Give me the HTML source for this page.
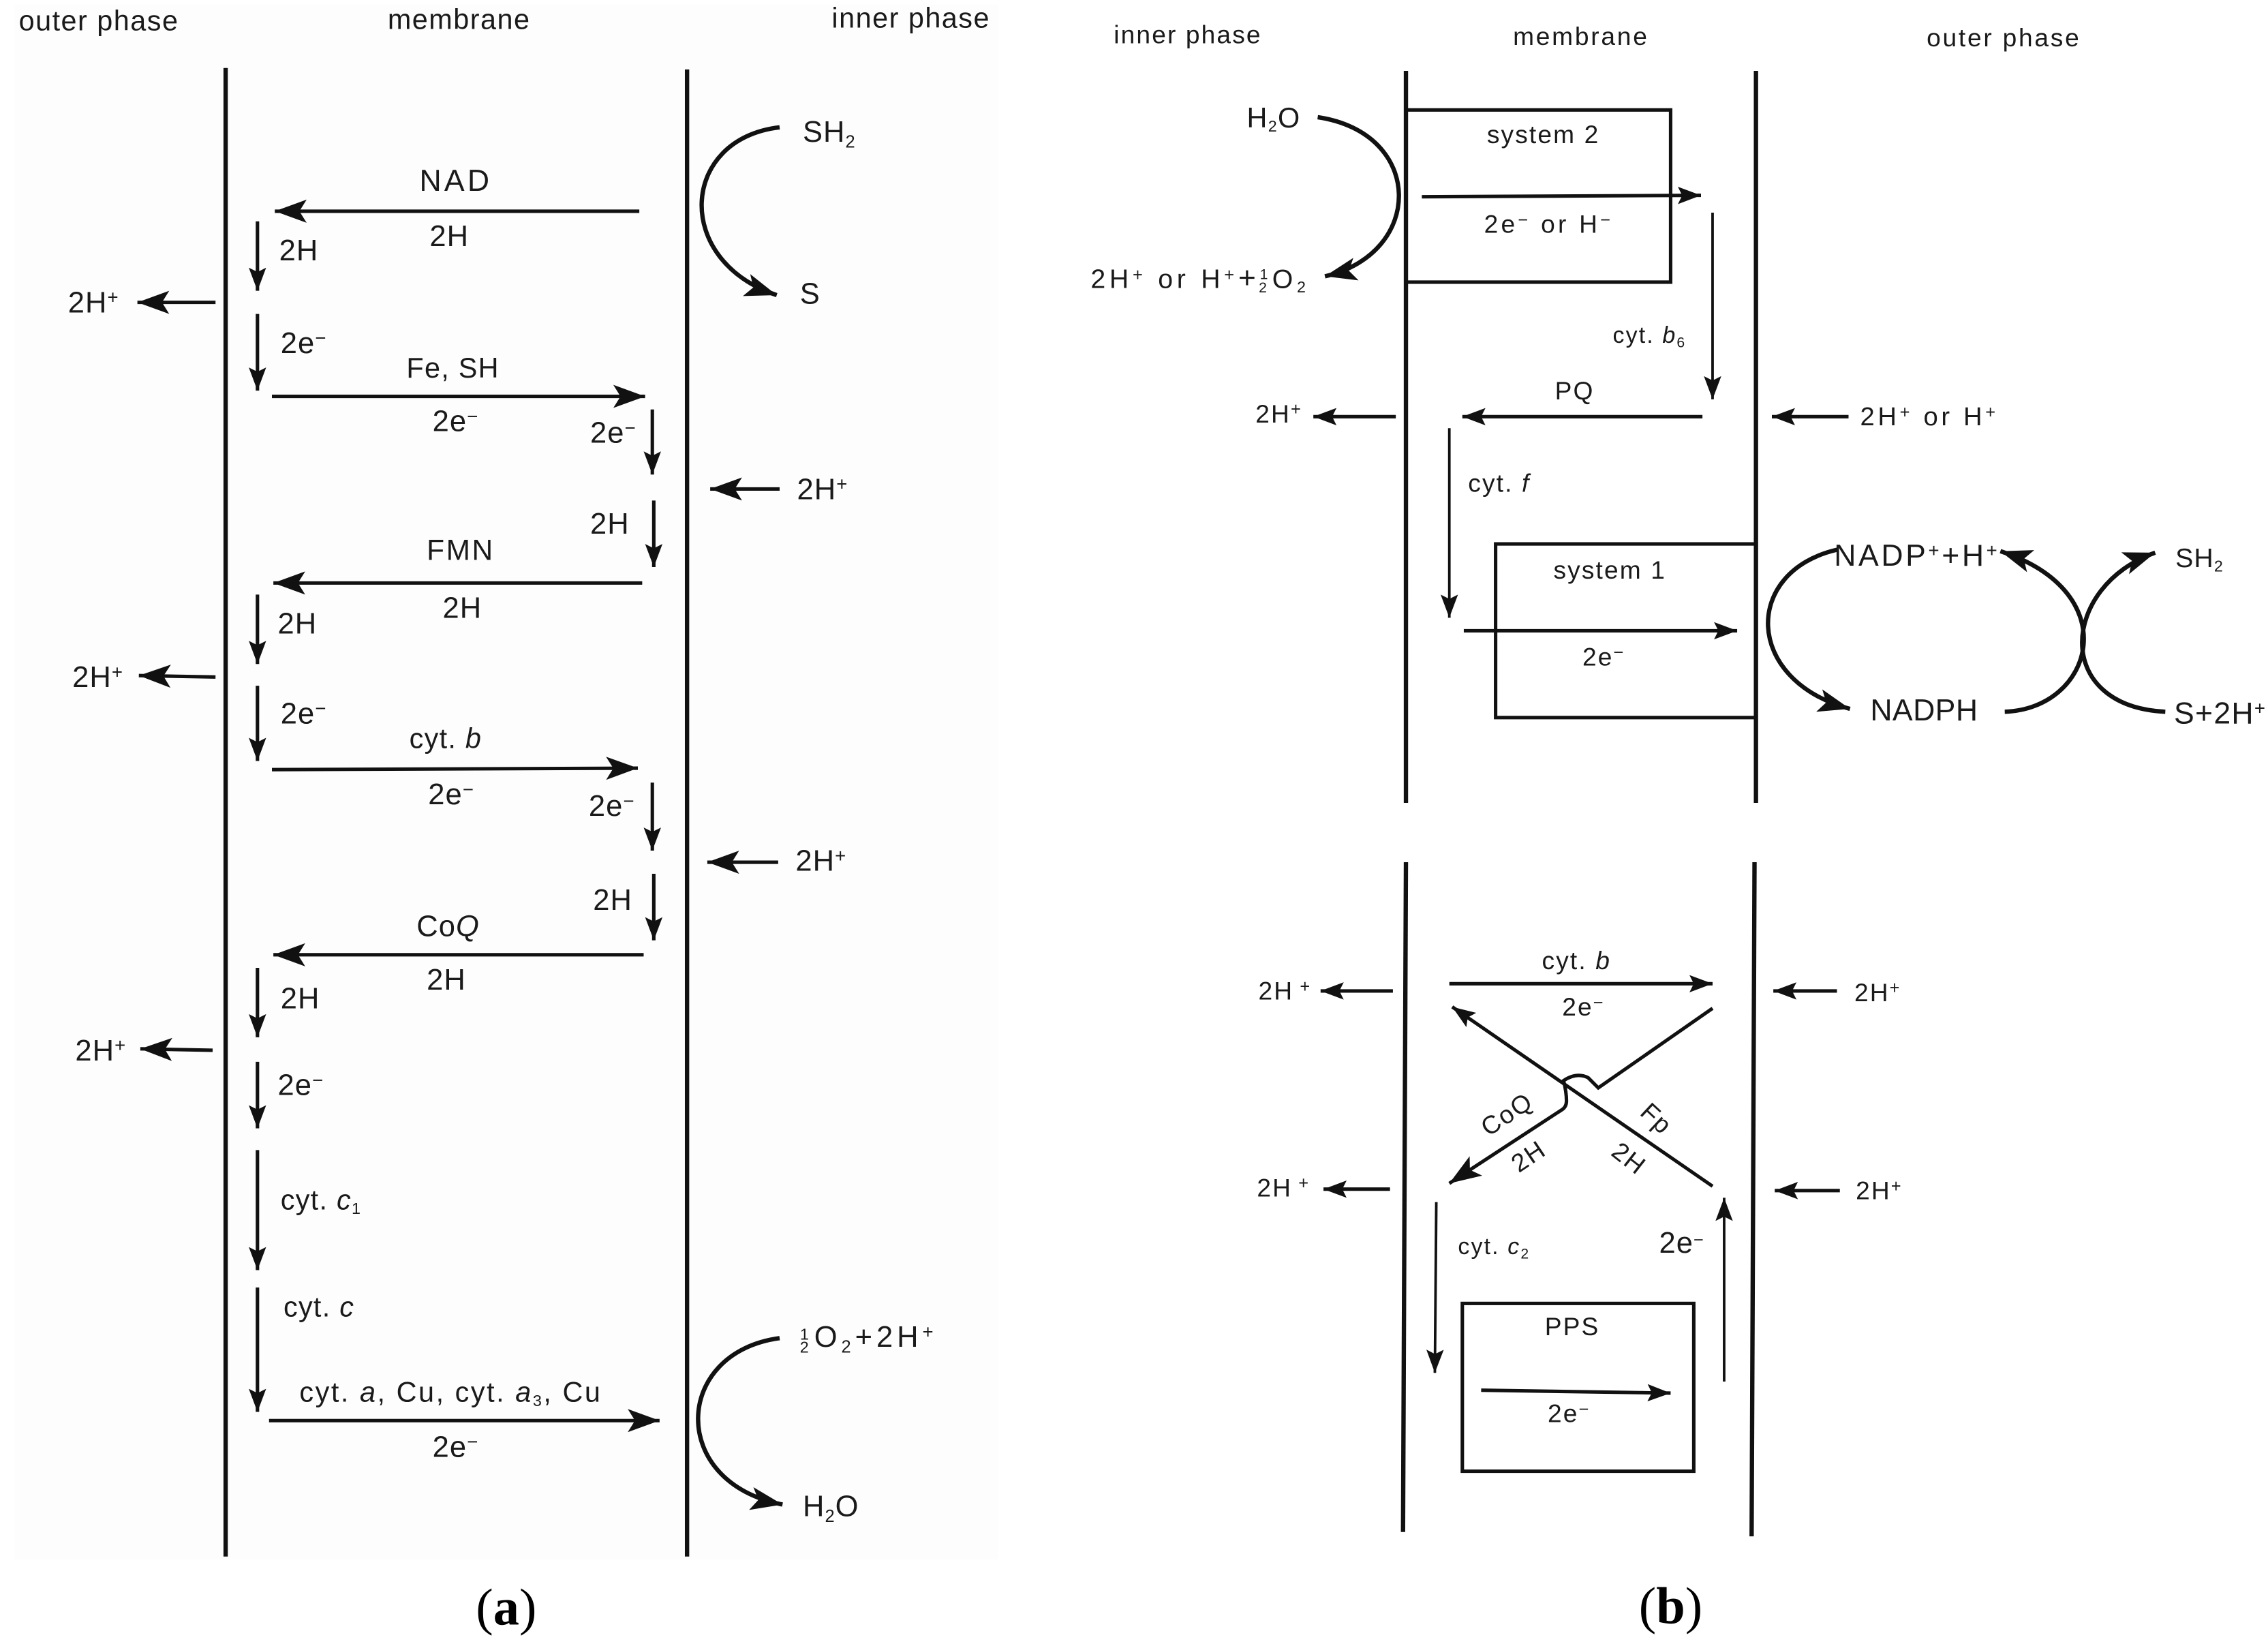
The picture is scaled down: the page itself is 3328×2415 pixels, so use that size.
<!DOCTYPE html>
<html><head><meta charset="utf-8"><style>
html,body{margin:0;padding:0;background:#fff;width:3328px;height:2415px;overflow:hidden}
svg{display:block}
text{font-family:"Liberation Sans",sans-serif;fill:#1a1a1a;font-size:20.5px;letter-spacing:.5px}
.hd{font-size:19.5px;letter-spacing:.7px}
.h{font-size:19.5px;letter-spacing:.6px}
.b{font-size:17.5px;letter-spacing:1px}
.bh{font-size:17.5px;letter-spacing:1.3px}
.r{font-size:21px;letter-spacing:.2px}
.cap{font-family:"Liberation Serif",serif;font-size:36px;fill:#000;letter-spacing:0}
.l{stroke:#111;fill:none;stroke-width:2.4}
.m{stroke:#111;fill:none;stroke-width:3}
.c{stroke:#111;fill:none;stroke-width:3}
.t{stroke:#111;fill:none;stroke-width:1.8}
</style></head><body>
<svg width="3328" height="2415" viewBox="0 0 1568 1137.8" xmlns="http://www.w3.org/2000/svg">
<defs>
<marker id="a" markerUnits="userSpaceOnUse" markerWidth="26" markerHeight="18" refX="22" refY="8" orient="auto"><path d="M0 0L22 8L0 16L5 8Z" fill="#111"/></marker>
<marker id="s" markerUnits="userSpaceOnUse" markerWidth="20" markerHeight="14" refX="16" refY="6" orient="auto"><path d="M0 0L16 6L0 12L3 6Z" fill="#111"/></marker>
</defs>
<rect x="10" y="3" width="680" height="1075" fill="#fdfdfd"/>

<!-- headers a -->
<text x="13" y="21" class="hd">outer phase</text>
<text x="268" y="20" class="hd">membrane</text>
<text x="575" y="19" class="hd">inner phase</text>

<!-- panel a membranes -->
<line class="m" x1="156" y1="47" x2="156" y2="1076"/>
<line class="m" x1="475" y1="48" x2="475" y2="1076"/>

<!-- panel a curves -->
<path class="c" d="M539 88C470 96 465 180 537 204" marker-end="url(#a)"/>
<text x="555" y="98">SH<tspan font-size="12" dy="4">2</tspan></text>
<text x="553" y="210">S</text>
<path class="c" d="M539 925C465 935 462 1025 541 1040" marker-end="url(#a)"/>
<text x="553" y="931" style="letter-spacing:2.8px"><tspan font-size="11" dy="-5">1</tspan><tspan font-size="11" dy="9" dx="-9">2</tspan><tspan dy="-4" dx="1">O</tspan><tspan font-size="12" dy="4">2</tspan><tspan dy="-4">+2H</tspan><tspan font-size="13" dy="-6">+</tspan></text>
<text x="555" y="1048">H<tspan font-size="12" dy="4">2</tspan><tspan dy="-4">O</tspan></text>

<!-- a horizontals -->
<line class="l" x1="442" y1="146" x2="190" y2="146" marker-end="url(#a)"/>
<text x="290" y="132" style="font-size:21px;letter-spacing:2px">NAD</text><text x="297" y="170">2H</text>
<line class="l" x1="188" y1="274" x2="446" y2="274" marker-end="url(#a)"/>
<text x="281" y="261" class="h">Fe, SH</text><text x="299" y="298">2e<tspan font-size="13" dy="-6">−</tspan></text>
<line class="l" x1="444" y1="403" x2="189" y2="403" marker-end="url(#a)"/>
<text x="295" y="387" style="font-size:20px;letter-spacing:1.2px">FMN</text><text x="306" y="427">2H</text>
<line class="l" x1="188" y1="532" x2="441" y2="531" marker-end="url(#a)"/>
<text x="283" y="517" class="h">cyt. <tspan font-style="italic">b</tspan></text><text x="296" y="556">2e<tspan font-size="13" dy="-6">−</tspan></text>
<line class="l" x1="445" y1="660" x2="189" y2="660" marker-end="url(#a)"/>
<text x="288" y="647">Co<tspan font-style="italic">Q</tspan></text><text x="295" y="684">2H</text>
<line class="l" x1="186" y1="982" x2="456" y2="982" marker-end="url(#a)"/>
<text x="207" y="969" style="font-size:19.5px;letter-spacing:1.2px">cyt. <tspan font-style="italic">a</tspan>, Cu, cyt. <tspan font-style="italic">a</tspan><tspan font-size="11" dy="3">3</tspan><tspan dy="-3">, Cu</tspan></text>
<text x="299" y="1007">2e<tspan font-size="13" dy="-6">−</tspan></text>

<!-- a verticals left -->
<line class="l" x1="178" y1="153" x2="178" y2="201" marker-end="url(#s)"/><text x="193" y="180">2H</text>
<line class="l" x1="178" y1="217" x2="178" y2="270" marker-end="url(#s)"/><text x="194" y="244">2e<tspan font-size="13" dy="-6">−</tspan></text>
<line class="l" x1="178" y1="411" x2="178" y2="459" marker-end="url(#s)"/><text x="192" y="438">2H</text>
<line class="l" x1="178" y1="474" x2="178" y2="526" marker-end="url(#s)"/><text x="194" y="500">2e<tspan font-size="13" dy="-6">−</tspan></text>
<line class="l" x1="178" y1="669" x2="178" y2="717" marker-end="url(#s)"/><text x="194" y="697">2H</text>
<line class="l" x1="178" y1="734" x2="178" y2="780" marker-end="url(#s)"/><text x="192" y="757">2e<tspan font-size="13" dy="-6">−</tspan></text>
<line class="l" x1="178" y1="795" x2="178" y2="878" marker-end="url(#s)"/><text x="194" y="836" class="h">cyt. <tspan font-style="italic">c</tspan><tspan font-size="11" dy="3">1</tspan></text>
<line class="l" x1="178" y1="890" x2="178" y2="976" marker-end="url(#s)"/><text x="196" y="910" class="h">cyt. <tspan font-style="italic">c</tspan></text>

<!-- a verticals right -->
<line class="l" x1="451" y1="283" x2="451" y2="328" marker-end="url(#s)"/><text x="408" y="306">2e<tspan font-size="13" dy="-6">−</tspan></text>
<line class="l" x1="452" y1="346" x2="452" y2="392" marker-end="url(#s)"/><text x="408" y="369">2H</text>
<line class="l" x1="451" y1="541" x2="451" y2="588" marker-end="url(#s)"/><text x="407" y="564">2e<tspan font-size="13" dy="-6">−</tspan></text>
<line class="l" x1="452" y1="604" x2="452" y2="650" marker-end="url(#s)"/><text x="410" y="629">2H</text>

<!-- a protons -->
<line class="l" x1="149" y1="209" x2="95" y2="209" marker-end="url(#a)"/><text x="47" y="216">2H<tspan font-size="13" dy="-6">+</tspan></text>
<line class="l" x1="149" y1="468" x2="96" y2="467" marker-end="url(#a)"/><text x="50" y="475">2H<tspan font-size="13" dy="-6">+</tspan></text>
<line class="l" x1="147" y1="726" x2="97" y2="725" marker-end="url(#a)"/><text x="52" y="733">2H<tspan font-size="13" dy="-6">+</tspan></text>
<line class="l" x1="539" y1="338" x2="491" y2="338" marker-end="url(#a)"/><text x="551" y="345">2H<tspan font-size="13" dy="-6">+</tspan></text>
<line class="l" x1="538" y1="596" x2="489" y2="596" marker-end="url(#a)"/><text x="550" y="602">2H<tspan font-size="13" dy="-6">+</tspan></text>

<!-- headers b -->
<text x="770" y="30" class="b">inner phase</text>
<text x="1046" y="31" class="bh">membrane</text>
<text x="1332" y="32" class="bh">outer phase</text>

<!-- panel b membranes -->
<line class="m" x1="972" y1="49" x2="972" y2="555"/>
<line class="m" x1="1214" y1="49" x2="1214" y2="555"/>
<line class="m" x1="972" y1="596" x2="970" y2="1059"/>
<line class="m" x1="1213" y1="596" x2="1211" y2="1062"/>

<!-- system 2 -->
<path class="l" d="M972 76H1155V195H972"/>
<text x="1028" y="99" class="b">system 2</text>
<line class="l" x1="983" y1="136" x2="1176" y2="135" marker-end="url(#s)"/>
<text x="1026" y="161" class="b" style="letter-spacing:2px">2e<tspan font-size="12" dy="-5">−</tspan><tspan dy="5"> or H</tspan><tspan font-size="12" dy="-5">−</tspan></text>
<path class="c" d="M911 81C985 92 985 175 916 191" marker-end="url(#a)"/>
<text x="862" y="88" class="h">H<tspan font-size="11" dy="3">2</tspan><tspan dy="-3">O</tspan></text>
<text x="754" y="199" style="font-size:18.5px;letter-spacing:2.7px">2H<tspan font-size="12" dy="-5">+</tspan><tspan dy="5"> or H</tspan><tspan font-size="12" dy="-5">+</tspan><tspan dy="5" font-size="21">+</tspan><tspan font-size="10" dy="-6">1</tspan><tspan font-size="10" dy="9" dx="-9">2</tspan><tspan dy="-3" dx="1">O</tspan><tspan font-size="11" dy="3">2</tspan></text>

<line class="t" x1="1184" y1="147" x2="1184" y2="276" marker-end="url(#s)"/>
<text x="1115" y="237" class="b" style="font-size:16px">cyt. <tspan font-style="italic">b</tspan><tspan font-size="10" dy="3">6</tspan></text>
<line class="l" x1="1177" y1="288" x2="1011" y2="288" marker-end="url(#s)"/>
<text x="1075" y="276" class="b">PQ</text>
<line class="l" x1="965" y1="288" x2="908" y2="288" marker-end="url(#s)"/>
<text x="868" y="292" class="b">2H<tspan font-size="12" dy="-5">+</tspan></text>
<line class="l" x1="1278" y1="288" x2="1225" y2="288" marker-end="url(#s)"/>
<text x="1286" y="294" style="font-size:18px;letter-spacing:2.2px">2H<tspan font-size="12" dy="-5">+</tspan><tspan dy="5"> or H</tspan><tspan font-size="12" dy="-5">+</tspan></text>
<line class="t" x1="1002" y1="296" x2="1002" y2="427" marker-end="url(#s)"/>
<text x="1015" y="340" class="b">cyt. <tspan font-style="italic">f</tspan></text>

<!-- system 1 -->
<path class="l" d="M1214 376H1034V496H1214"/>
<text x="1074" y="400" class="b">system 1</text>
<line class="l" x1="1012" y1="436" x2="1201" y2="436" marker-end="url(#s)"/>
<text x="1094" y="460" class="b">2e<tspan font-size="12" dy="-5">−</tspan></text>
<text x="1268" y="391" class="r" style="letter-spacing:1.7px">NADP<tspan font-size="13" dy="-6">+</tspan><tspan dy="6">+H</tspan><tspan font-size="13" dy="-6">+</tspan></text>
<text x="1293" y="498" class="r">NADPH</text>
<text x="1504" y="392" style="font-size:18.5px">SH<tspan font-size="11" dy="3">2</tspan></text>
<text x="1503" y="500" class="r" style="letter-spacing:.6px">S+2H<tspan font-size="13" dy="-6">+</tspan></text>
<path class="c" d="M1270 380C1205 395 1205 470 1279 490" marker-end="url(#a)"/>
<path class="c" d="M1386 492C1447 490 1471 410 1383 381" marker-end="url(#a)"/>
<path class="c" d="M1497 492C1418 488 1425 405 1490 382" marker-end="url(#a)"/>

<!-- lower b -->
<line class="l" x1="963" y1="685" x2="913" y2="685" marker-end="url(#s)"/>
<text x="870" y="691" class="b">2H<tspan font-size="12" dy="-5"> +</tspan></text>
<line class="l" x1="961" y1="822" x2="915" y2="822" marker-end="url(#s)"/>
<text x="869" y="827" class="b">2H<tspan font-size="12" dy="-5"> +</tspan></text>
<line class="l" x1="1270" y1="685" x2="1226" y2="685" marker-end="url(#s)"/>
<text x="1282" y="692" class="b">2H<tspan font-size="12" dy="-5">+</tspan></text>
<line class="l" x1="1272" y1="823" x2="1227" y2="823" marker-end="url(#s)"/>
<text x="1283" y="829" class="b">2H<tspan font-size="12" dy="-5">+</tspan></text>

<line class="l" x1="1002" y1="680" x2="1184" y2="680" marker-end="url(#s)"/>
<text x="1066" y="670" class="b">cyt. <tspan font-style="italic">b</tspan></text>
<text x="1080" y="702" class="b">2e<tspan font-size="12" dy="-5">−</tspan></text>
<!-- X -->
<line class="l" x1="1184" y1="820" x2="1004" y2="696" marker-end="url(#s)"/>
<path class="l" d="M1184 697L1105 752Q1101 748 1098 745Q1090 741 1081 747Q1083 755 1083 761Q1083 765 1080 767L1002 818" marker-end="url(#a)"/>
<text transform="translate(1029 786) rotate(-34)" class="b">CoQ</text>
<text transform="translate(1050 811) rotate(-34)" class="b">2H</text>
<text transform="translate(1133 770) rotate(43)" class="b">Fp</text>
<text transform="translate(1113 798) rotate(38)" class="b">2H</text>

<line class="t" x1="993" y1="831" x2="992" y2="949" marker-end="url(#s)"/>
<text x="1008" y="867" class="b" style="font-size:16px">cyt. <tspan font-style="italic">c</tspan><tspan font-size="10" dy="3">2</tspan></text>
<line class="t" x1="1192" y1="955" x2="1192" y2="828" marker-end="url(#s)"/>
<text x="1147" y="866">2e<tspan font-size="12" dy="-5">−</tspan></text>
<rect class="l" x="1011" y="901" width="160" height="116"/>
<text x="1068" y="923" class="b">PPS</text>
<line class="l" x1="1024" y1="961" x2="1155" y2="963" marker-end="url(#s)"/>
<text x="1070" y="983" class="b">2e<tspan font-size="12" dy="-5">−</tspan></text>

<!-- captions -->
<text x="329" y="1123" class="cap">(<tspan font-weight="bold">a</tspan>)</text>
<text x="1133" y="1122" class="cap">(<tspan font-weight="bold">b</tspan>)</text>
</svg>
</body></html>
